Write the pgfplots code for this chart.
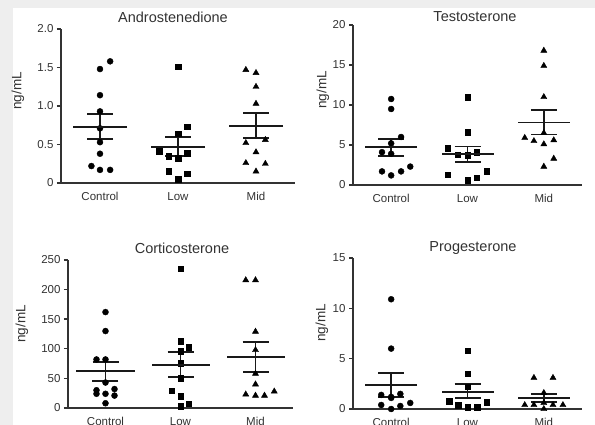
\documentclass[border=0pt]{standalone}
\usepackage{fontspec}
\setmainfont{Liberation Sans}
\usepackage{pgfplots}
\pgfplotsset{compat=1.18}
\definecolor{axgray}{HTML}{333333}
\definecolor{txtgray}{HTML}{333333}
\definecolor{bggray}{HTML}{EEEEEE}

\pgfplotsset{
  panel/.style={
    scale only axis,
    anchor=south west,
    axis lines=left,
    axis line style={-, line width=1.5pt, axgray},
    xmin=-0.5, xmax=2.5, ymin=0,
    xtick={0,1,2}, xticklabels={Control,Low,Mid},
    xtick style={draw=none},
    ytick style={line width=1.4pt, axgray},
    tick align=outside, major tick length=4pt,
    tick label style={font=\fontsize{11.5}{12}\selectfont, text=txtgray},
    xticklabel style={yshift=-2pt},
    clip=false,
  },
  circ/.style={only marks, mark=*, mark size=3pt, black},
  sq/.style={only marks, mark=square*, mark size=2.8pt, black},
  tri/.style={only marks, mark=triangle*, mark size=3.5pt, black},
  msem/.style={only marks, mark=-, mark size=#1, black!90,
    mark options={line width=1.8pt},
    error bars/.cd, y dir=both, y explicit,
    error bar style={line width=1.8pt, black!90},
    error mark=-, error mark options={rotate=90, line width=1.8pt, mark size=13pt, black!90}},
}

\begin{document}
\begin{tikzpicture}
\useasboundingbox (0pt,0pt) rectangle (595pt,425pt);
\fill[bggray] (0pt,0pt) rectangle (595pt,425pt);
\fill[white] (13pt,0pt) rectangle (595pt,417pt);

% Androstenedione
\begin{axis}[panel, at={(61pt,242pt)}, width=234pt, height=154pt,
  ymax=2, ytick={0,0.5,1,1.5,2}, yticklabels={0,0.5,1.0,1.5,2.0}]
\addplot[circ] coordinates {(0.13,1.58) (0,1.48) (0,1.14) (0,0.93) (0,0.71)
  (0,0.53) (0,0.38) (-0.11,0.22) (0,0.17) (0.13,0.17)};
\addplot[sq] coordinates {(1,1.51) (1.12,0.73) (1,0.64) (0.76,0.41) (0.88,0.35)
  (1,0.32) (1.12,0.39) (0.88,0.15) (1.12,0.12) (1,0.05)};
\addplot[tri] coordinates {(1.87,1.47) (2,1.43) (2,1.25) (2,1.03) (2.12,0.56)
  (1.87,0.52) (2,0.40) (1.87,0.26) (2.12,0.25) (2,0.15)};
\addplot[msem=27pt] coordinates {
  (0,0.73) += (0,0.17) -= (0,0.16)
  (1,0.47) += (0,0.13) -= (0,0.12)
  (2,0.74) += (0,0.17) -= (0,0.16)};
\end{axis}

% Testosterone
\begin{axis}[panel, at={(353pt,240pt)}, width=229pt, height=160pt,
  ymax=20, ytick={0,5,10,15,20}, yticklabels={0,5,10,15,20}]
\addplot[circ] coordinates {(0,10.75) (0,9.5) (0.13,6.0) (0,5.2) (-0.12,4.1)
  (0,3.9) (-0.12,1.7) (0,1.2) (0.13,1.7) (0.25,2.3)};
\addplot[sq] coordinates {(1,11.0) (1,6.6) (0.74,4.6) (0.87,3.8) (1,3.7)
  (1.12,4.1) (0.74,1.3) (1,0.6) (1.12,0.9) (1.25,1.7)};
\addplot[tri] coordinates {(2,16.8) (2,14.9) (2,11.0) (1.75,5.9) (1.87,5.5)
  (2,6.5) (2,5.1) (2.13,5.6) (2.13,3.3) (2,2.3)};
\addplot[msem=26pt] coordinates {
  (0,4.7) += (0,1.0) -= (0,1.1)
  (1,3.9) += (0,0.9) -= (0,1.0)
  (2,7.8) += (0,1.6) -= (0,1.5)};
\end{axis}

% Corticosterone
\begin{axis}[panel, at={(68pt,17pt)}, width=225pt, height=148pt,
  ymax=250, ytick={0,50,100,150,200,250}, yticklabels={0,50,100,150,200,250}]
\addplot[circ] coordinates {(0,162) (0,130) (-0.12,82) (0,82) (0,43)
  (-0.12,30) (0.12,32) (-0.12,24) (0,24) (0.12,21) (0,8)};
\addplot[sq] coordinates {(1,235) (1,113) (1.11,103) (1,96) (1,76)
  (1,50) (0.88,29) (1,20) (1.11,7) (1,3)};
\addplot[tri] coordinates {(1.87,216) (2,216) (2,129) (2,98) (2,58)
  (2,40) (1.87,23) (2,21) (2.12,21) (2.25,28)};
\addplot[msem=29pt] coordinates {
  (0,62) += (0,16) -= (0,17)
  (1,73) += (0,22) -= (0,21)
  (2,86) += (0,25) -= (0,25)};
\end{axis}

% Progesterone
\begin{axis}[panel, at={(353pt,16pt)}, width=229pt, height=151pt,
  ymax=15, ytick={0,5,10,15}, yticklabels={0,5,10,15}]
\addplot[circ] coordinates {(0,10.9) (0,6.0) (-0.13,1.4) (0,1.1) (0.12,1.5)
  (-0.13,0.4) (0,0.0) (0.12,0.3) (0.25,0.6) (0,1.2)};
\addplot[sq] coordinates {(1,5.8) (1,3.5) (1,2.2) (0.76,0.8) (0.88,0.4)
  (1,0.2) (1.13,0.2) (1.25,0.7)};
\addplot[tri] coordinates {(1.87,3.1) (2.12,3.1) (2,1.6) (1.75,0.4) (1.87,0.4)
  (2,0.6) (2.12,0.4) (2.25,0.4) (2,0.0)};
\addplot[msem=26pt] coordinates {
  (0,2.4) += (0,1.2) -= (0,1.2)
  (1,1.7) += (0,0.8) -= (0,0.6)
  (2,1.1) += (0,0.4) -= (0,0.4)};
\end{axis}

% titles and axis labels
\begin{scope}[every node/.style={text=txtgray, inner sep=0pt}]
\node[font=\fontsize{14.5}{16}\selectfont] at (173pt,408pt) {Androstenedione};
\node[font=\fontsize{14.5}{16}\selectfont] at (475pt,408pt) {Testosterone};
\node[font=\fontsize{14.5}{16}\selectfont] at (182pt,177pt) {Corticosterone};
\node[font=\fontsize{14.5}{16}\selectfont] at (473pt,177pt) {Progesterone};
\node[font=\fontsize{13.5}{15}\selectfont, rotate=90] at (18pt,334pt) {ng/mL};
\node[font=\fontsize{13.5}{15}\selectfont, rotate=90] at (323pt,335pt) {ng/mL};
\node[font=\fontsize{13.5}{15}\selectfont, rotate=90] at (22pt,101pt) {ng/mL};
\node[font=\fontsize{13.5}{15}\selectfont, rotate=90] at (322pt,102pt) {ng/mL};
\end{scope}
\end{tikzpicture}
\end{document}
